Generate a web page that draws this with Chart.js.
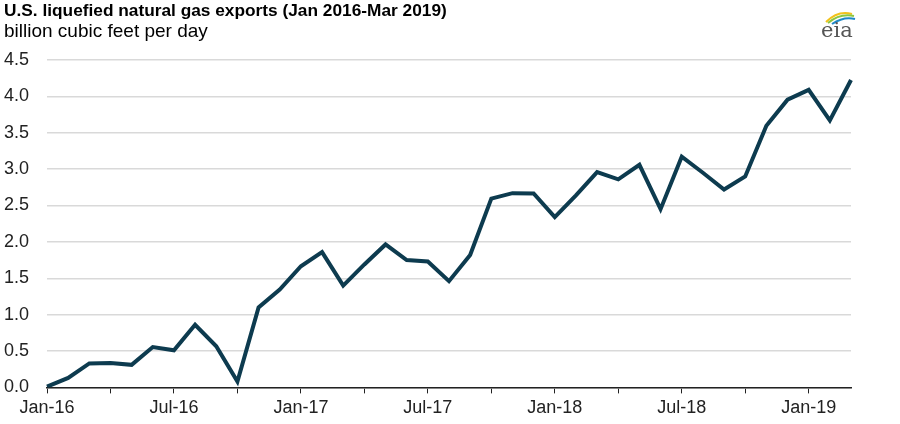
<!DOCTYPE html>
<html>
<head>
<meta charset="utf-8">
<script src="https://cdn.jsdelivr.net/npm/chart.js@4/dist/chart.umd.min.js"></script>
<style>
    body { margin: 0; background: #fff; font-family: "Liberation Sans", Arial, sans-serif; }
    #wrap { position: relative; width: 900px; height: 424px; }
    #title { position: absolute; left: 4px; top: 0px; font-size: 17.3px; font-weight: bold; color: #000; }
    #sub { position: absolute; left: 4px; top: 20px; font-size: 19px; color: #000; }
    #logo { position: absolute; left: 818px; top: 6px; width: 40px; height: 38px; }
    #logo span { position: absolute; left: 3px; top: 12px; font-family: "DejaVu Serif", "Liberation Serif", serif; font-size: 21px; color: #555; }
    canvas { position: absolute; left: 0; top: 0; }
</style>
</head>
<body>
<div id="wrap">
    <canvas id="chart" width="900" height="424"></canvas>
    <div id="title">U.S. liquefied natural gas exports (Jan 2016-Mar 2019)</div>
    <div id="sub">billion cubic feet per day</div>
    <div id="logo">
        <svg width="40" height="20" style="position:absolute;left:0;top:0">
            <path d="M8 16 Q20 4 34 8" stroke="#f2c21b" stroke-width="2" fill="none"/>
            <path d="M10 17 Q22 7 36 10" stroke="#8dc63f" stroke-width="2" fill="none"/>
            <path d="M14 18 Q26 10 37 13" stroke="#1e88c8" stroke-width="2" fill="none"/>
        </svg>
        <span>eia</span>
    </div>
</div>
<script>
// ── Data ───────────────────────────────────────────────────────────────
const months = [
    'Jan-16','Feb-16','Mar-16','Apr-16','May-16','Jun-16','Jul-16','Aug-16','Sep-16','Oct-16','Nov-16','Dec-16',
    'Jan-17','Feb-17','Mar-17','Apr-17','May-17','Jun-17','Jul-17','Aug-17','Sep-17','Oct-17','Nov-17','Dec-17',
    'Jan-18','Feb-18','Mar-18','Apr-18','May-18','Jun-18','Jul-18','Aug-18','Sep-18','Oct-18','Nov-18','Dec-18',
    'Jan-19','Feb-19','Mar-19'
];
const exportsBcfd = [
    0.01, 0.13, 0.33, 0.335, 0.31, 0.555, 0.51, 0.86, 0.565, 0.08, 1.10, 1.345,
    1.665, 1.86, 1.40, 1.69, 1.965, 1.75, 1.73, 1.46, 1.82, 2.595, 2.67, 2.665,
    2.34, 2.64, 2.96, 2.86, 3.06, 2.45, 3.17, 2.95, 2.72, 2.90, 3.595, 3.955,
    4.09, 3.67, 4.225
];
const yTicks = [0, 0.5, 1, 1.5, 2, 2.5, 3, 3.5, 4, 4.5];

const axisFont = { family: '"Liberation Sans", Arial, sans-serif', size: 18 };

new Chart(document.getElementById('chart'), {
    type: 'line',
    data: {
        labels: months,
        datasets: [{
            data: exportsBcfd,
            borderColor: '#0d3b4f',
            borderWidth: 4,
            pointRadius: 0,
            tension: 0,
            borderJoinStyle: 'miter'
        }]
    },
    options: {
        responsive: false,
        animation: false,
        layout: { padding: { top: 60, right: 49, left: 3, bottom: 1 } },
        plugins: { legend: { display: false }, tooltip: { enabled: false } },
        scales: {
            x: {
                offset: false,
                border: { color: '#222', width: 1.5 },
                grid: {
                    drawOnChartArea: false,
                    tickLength: 6,
                    color: ctx => (ctx.index % 3 === 0 ? '#222' : 'transparent')
                },
                ticks: {
                    autoSkip: false,
                    maxRotation: 0,
                    padding: 4,
                    color: '#222',
                    font: axisFont,
                    callback: (v, i) => (i % 6 === 0 ? months[i] : '')
                }
            },
            y: {
                min: 0,
                max: 4.5,
                afterBuildTicks: axis => { axis.ticks = yTicks.map(v => ({ value: v })); },
                afterFit: axis => { axis.width = 44; },
                border: { display: false },
                grid: { color: '#d9d9d9', lineWidth: 1.5, drawTicks: false },
                ticks: {
                    padding: 18,
                    color: '#222',
                    font: axisFont,
                    callback: v => v.toFixed(1)
                }
            }
        }
    }
});
</script>
</body>
</html>
